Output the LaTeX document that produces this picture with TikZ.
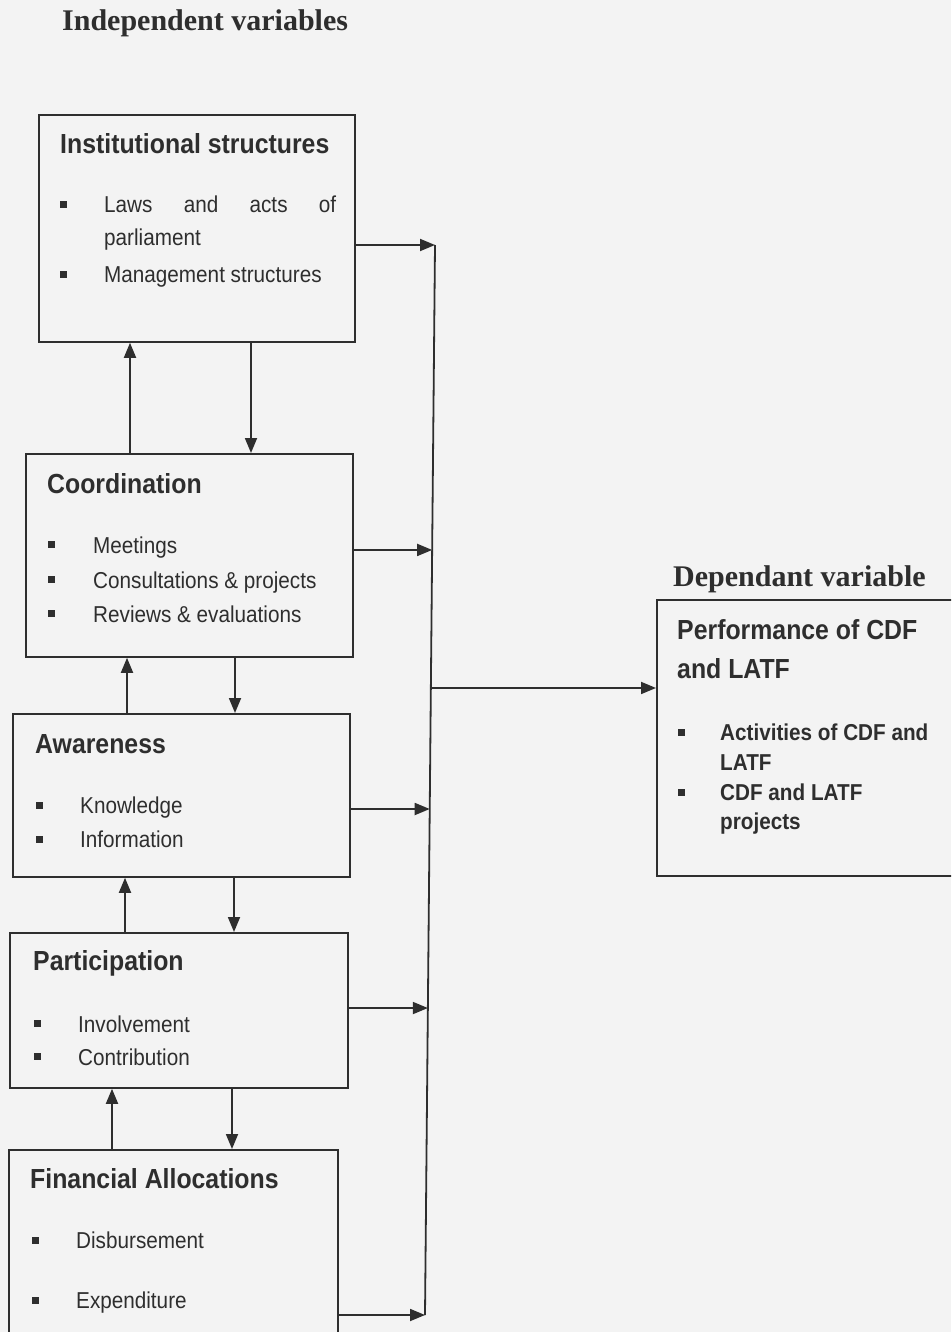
\documentclass[tikz,border=0pt]{standalone}
\usepackage{fontspec}
\usetikzlibrary{arrows.meta,calc}
\newfontfamily\sansn[FakeStretch=0.9]{Liberation Sans}
\newfontfamily\serifb{Liberation Serif}
\definecolor{ink}{HTML}{2E2E2E}
\definecolor{paper}{HTML}{F3F3F3}
\tikzset{
 boxshape/.style={draw=ink, line width=1.8pt, rectangle, inner sep=0pt, anchor=north west},
 headtxt/.style={anchor=base west, inner sep=0pt, text=ink, font=\serifb\bfseries\fontsize{30}{32}\selectfont},
 titletxt/.style={anchor=base west, inner sep=0pt, text=ink, font=\sansn\bfseries\fontsize{27.6}{30}\selectfont},
 itemtxt/.style={anchor=base west, inner sep=0pt, text=ink, font=\sansn\fontsize{23}{25}\selectfont},
 itembold/.style={anchor=base west, inner sep=0pt, text=ink, font=\sansn\bfseries\fontsize{23}{25}\selectfont},
 bul/.style={fill=ink, draw=none, minimum size=7pt, inner sep=0pt, rectangle},
 conn/.style={draw=ink, line width=1.8pt, -{Triangle[length=15pt,width=12pt]}},
 busline/.style={draw=ink, line width=1.8pt},
}
\begin{document}
\begin{tikzpicture}[x=1pt,y=-1pt]
\clip (0,0) rectangle (951,1332);
\fill[paper] (0,0) rectangle (951,1332);

% headings
\node[headtxt] (hind) at (62,31) {Independent variables};
\node[headtxt] (hdep) at (673,586) {Dependant variable};

% boxes
\node[boxshape, minimum width=316pt, minimum height=227pt] (b1) at (38,114) {};
\node[boxshape, minimum width=327pt, minimum height=203pt] (b2) at (25,453) {};
\node[boxshape, minimum width=337pt, minimum height=163pt] (b3) at (12,713) {};
\node[boxshape, minimum width=338pt, minimum height=155pt] (b4) at (9,932) {};
\node[boxshape, minimum width=329pt, minimum height=220pt] (b5) at (8,1149) {};
\node[boxshape, minimum width=340pt, minimum height=276pt] (b6) at (656,599) {};

% box 1 text
\node[titletxt] (t1) at (60,154) {Institutional structures};
\node[bul] (b1k1) at (63,205) {};
\node[itemtxt] (i1a) at (104,213) {\makebox[232pt][s]{Laws\hfill and\hfill acts\hfill of}};
\node[itemtxt] (i1b) at (104,246) {parliament};
\node[bul] (b1k2) at (63,274) {};
\node[itemtxt] (i1c) at (104,282) {Management structures};

% box 2 text
\node[titletxt] (t2) at (47,493) {Coordination};
\node[bul] (b2k1) at (51,544) {};
\node[itemtxt] (i2a) at (93,553) {Meetings};
\node[bul] (b2k2) at (51,579) {};
\node[itemtxt] (i2b) at (93,588) {Consultations \& projects};
\node[bul] (b2k3) at (51,613) {};
\node[itemtxt] (i2c) at (93,622) {Reviews \& evaluations};

% box 3 text
\node[titletxt] (t3) at (35,753) {Awareness};
\node[bul] (b3k1) at (39,805) {};
\node[itemtxt] (i3a) at (80,813) {Knowledge};
\node[bul] (b3k2) at (39,839) {};
\node[itemtxt] (i3b) at (80,847) {Information};

% box 4 text
\node[titletxt] (t4) at (33,970) {Participation};
\node[bul] (b4k1) at (37,1023) {};
\node[itemtxt] (i4a) at (78,1032) {Involvement};
\node[bul] (b4k2) at (37,1056) {};
\node[itemtxt] (i4b) at (78,1065) {Contribution};

% box 5 text
\node[titletxt] (t5) at (30,1188) {Financial Allocations};
\node[bul] (b5k1) at (35,1240) {};
\node[itemtxt] (i5a) at (76,1248) {Disbursement};
\node[bul] (b5k2) at (35,1300) {};
\node[itemtxt] (i5b) at (76,1308) {Expenditure};

% box 6 text
\node[titletxt] (t6a) at (677,639) {Performance of CDF};
\node[titletxt] (t6b) at (677,678) {and LATF};
\node[bul] (b6k1) at (681,732) {};
\node[itembold] (i6a) at (720,740) {Activities of CDF and};
\node[itembold] (i6b) at (720,770) {LATF};
\node[bul] (b6k2) at (681,792) {};
\node[itembold] (i6c) at (720,800) {CDF and LATF};
\node[itembold] (i6d) at (720,829) {projects};

% bus line
\coordinate (bustop) at (435,245);
\coordinate (busbot) at (425,1315);
\coordinate (c2) at ($(bustop)!0.2850!(busbot)$);
\coordinate (c3) at ($(bustop)!0.5271!(busbot)$);
\coordinate (c4) at ($(bustop)!0.7131!(busbot)$);
\coordinate (c6) at ($(bustop)!0.4140!(busbot)$);
\draw[busline] (bustop) -- (busbot);

% arrows into bus
\draw[conn] (b1.east |- bustop) -- (bustop);
\draw[conn] (b2.east |- c2) -- (c2);
\draw[conn] (b3.east |- c3) -- (c3);
\draw[conn] (b4.east |- c4) -- (c4);
\draw[conn] (b5.east |- busbot) -- (busbot);
\draw[conn] (c6) -- (b6.west |- c6);

% vertical arrows
\coordinate (u1) at (130,0);
\coordinate (d1) at (251,0);
\coordinate (u2) at (127,0);
\coordinate (d2) at (235,0);
\coordinate (u3) at (125,0);
\coordinate (d3) at (234,0);
\coordinate (u4) at (112,0);
\coordinate (d4) at (232,0);
\draw[conn] (b2.north -| u1) -- (b1.south -| u1);
\draw[conn] (b1.south -| d1) -- (b2.north -| d1);
\draw[conn] (b3.north -| u2) -- (b2.south -| u2);
\draw[conn] (b2.south -| d2) -- (b3.north -| d2);
\draw[conn] (b4.north -| u3) -- (b3.south -| u3);
\draw[conn] (b3.south -| d3) -- (b4.north -| d3);
\draw[conn] (b5.north -| u4) -- (b4.south -| u4);
\draw[conn] (b4.south -| d4) -- (b5.north -| d4);
\end{tikzpicture}
\end{document}
